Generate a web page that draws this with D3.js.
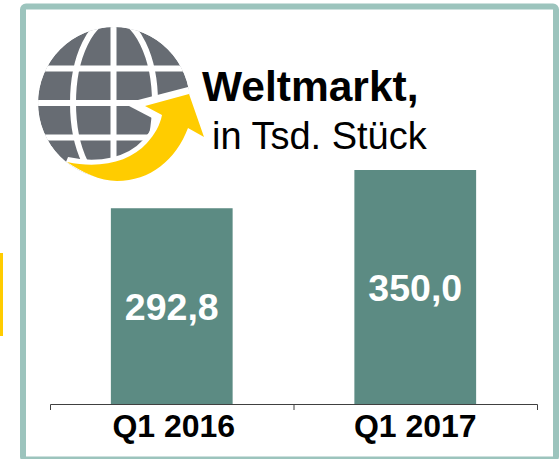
<!DOCTYPE html>
<html>
<head>
<meta charset="utf-8">
<script src="https://cdn.jsdelivr.net/npm/d3@7"></script>
<style>
  html, body { margin: 0; padding: 0; background: #fff; overflow: hidden; }
  text { font-family: "Liberation Sans", Arial, sans-serif; }
</style>
</head>
<body>
<div id="chart"></div>
<script>
var categories = ["Q1 2016", "Q1 2017"];
var values = [292.8, 350.0];
var valueLabels = ["292,8", "350,0"];
var titleLines = ["Weltmarkt,", "in Tsd. Stück"];

var width = 559, height = 459;
var axisY = 404;

var svg = d3.select("#chart")
    .append("svg")
        .attr("width", width)
        .attr("height", height)
        .style("display", "block");

// yellow sliver on the left edge
svg.append("rect")
    .attr("x", 0).attr("y", 253)
    .attr("width", 3).attr("height", 83)
    .attr("fill", "#ffcc00");

// frame
svg.append("rect")
    .attr("x", 23).attr("y", 6.5)
    .attr("width", 533).attr("height", 453)
    .attr("rx", 3)
    .attr("fill", "#fff")
    .attr("stroke", "#9cc4bd")
    .attr("stroke-width", 6);

var xScale = d3.scaleBand()
    .domain(categories)
    .range([50, 537])
    .paddingInner(0.5)
    .paddingOuter(0.25);

var yScale = d3.scaleLinear()
    .domain([0, 350])
    .range([axisY, 170]);

svg.append("g")
    .selectAll("rect")
    .data(values)
    .enter()
    .append("rect")
        .attr("x", function(d, i) { return xScale(categories[i]); })
        .attr("y", function(d) { return yScale(d); })
        .attr("width", xScale.bandwidth())
        .attr("height", function(d) { return yScale(0) - yScale(d); })
        .attr("fill", "#5c8b83");

svg.append("g")
    .selectAll("text")
    .data(values)
    .enter()
    .append("text")
        .attr("x", function(d, i) { return xScale(categories[i]) + xScale.bandwidth() / 2; })
        .attr("y", function(d) { return (yScale(d) + yScale(0)) / 2 + 14; })
        .attr("text-anchor", "middle")
        .attr("font-size", 37.5)
        .attr("font-weight", "bold")
        .attr("fill", "#fff")
        .text(function(d, i) { return valueLabels[i]; });

// x axis
var axis = svg.append("g")
    .attr("transform", "translate(0," + axisY + ")")
    .call(d3.axisBottom(xScale).tickSize(0).tickSizeOuter(6).tickPadding(10));
axis.select(".domain").attr("stroke", "#404040");
axis.selectAll("text")
    .attr("font-size", 32)
    .attr("font-weight", "bold")
    .attr("font-family", "Liberation Sans")
    .attr("fill", "#000")
    .attr("dx", function(d, i) { return i === 0 ? 2 : 0; }); // first label sits a bit right of its bar centre

// tick between the two categories
var midTick = xScale.range()[0] + xScale.step();
axis.append("line")
    .attr("x1", midTick + 0.5).attr("x2", midTick + 0.5)
    .attr("y1", 0.5).attr("y2", 6)
    .attr("stroke", "#404040");

// title
svg.append("text")
    .attr("x", 202).attr("y", 101)
    .attr("font-size", 42.5)
    .attr("font-weight", "bold")
    .attr("fill", "#000")
    .text(titleLines[0]);
svg.append("text")
    .attr("x", 212).attr("y", 149)
    .attr("font-size", 38)
    .attr("fill", "#000")
    .text(titleLines[1]);

// globe icon
var arrowPath = "M189,94 L204,137 L188,128 C176,160 150,181 117,181 C100,181 82,172 67,162 "
    + "C100,169 130,162 147,143 C155,134 160,125 162,115 L145,106 Z";

var defs = svg.append("defs");
defs.append("clipPath").attr("id", "globeClip")
    .append("circle").attr("cx", 114).attr("cy", 103).attr("r", 76);

var globe = svg.append("g").attr("clip-path", "url(#globeClip)");
globe.append("circle")
    .attr("cx", 114).attr("cy", 103).attr("r", 76)
    .attr("fill", "#676c73");

var gridStroke = { color: "#fff", w: 6 };
[68.5, 103, 137.5].forEach(function(y) {
    globe.append("line")
        .attr("x1", 30).attr("x2", 200)
        .attr("y1", y).attr("y2", y)
        .attr("stroke", gridStroke.color)
        .attr("stroke-width", gridStroke.w);
});
globe.append("line")
    .attr("x1", 113.5).attr("x2", 113.5)
    .attr("y1", 20).attr("y2", 185)
    .attr("stroke", gridStroke.color)
    .attr("stroke-width", gridStroke.w);
globe.append("ellipse")
    .attr("cx", 114).attr("cy", 103)
    .attr("rx", 41).attr("ry", 84)
    .attr("fill", "none")
    .attr("stroke", gridStroke.color)
    .attr("stroke-width", gridStroke.w);

// white halo cut out of the globe around the arrow
globe.append("path")
    .attr("d", arrowPath)
    .attr("fill", "#fff")
    .attr("stroke", "#fff")
    .attr("stroke-width", 10)
    .attr("stroke-linejoin", "miter");
// the wedge above the arrow head reaching into the globe
globe.append("path")
    .attr("d", "M192,86 L138,100 L129,106 L152,118 L190,110 Z")
    .attr("fill", "#fff");

svg.append("path")
    .attr("d", arrowPath)
    .attr("fill", "#ffcc00");
</script>
</body>
</html>
